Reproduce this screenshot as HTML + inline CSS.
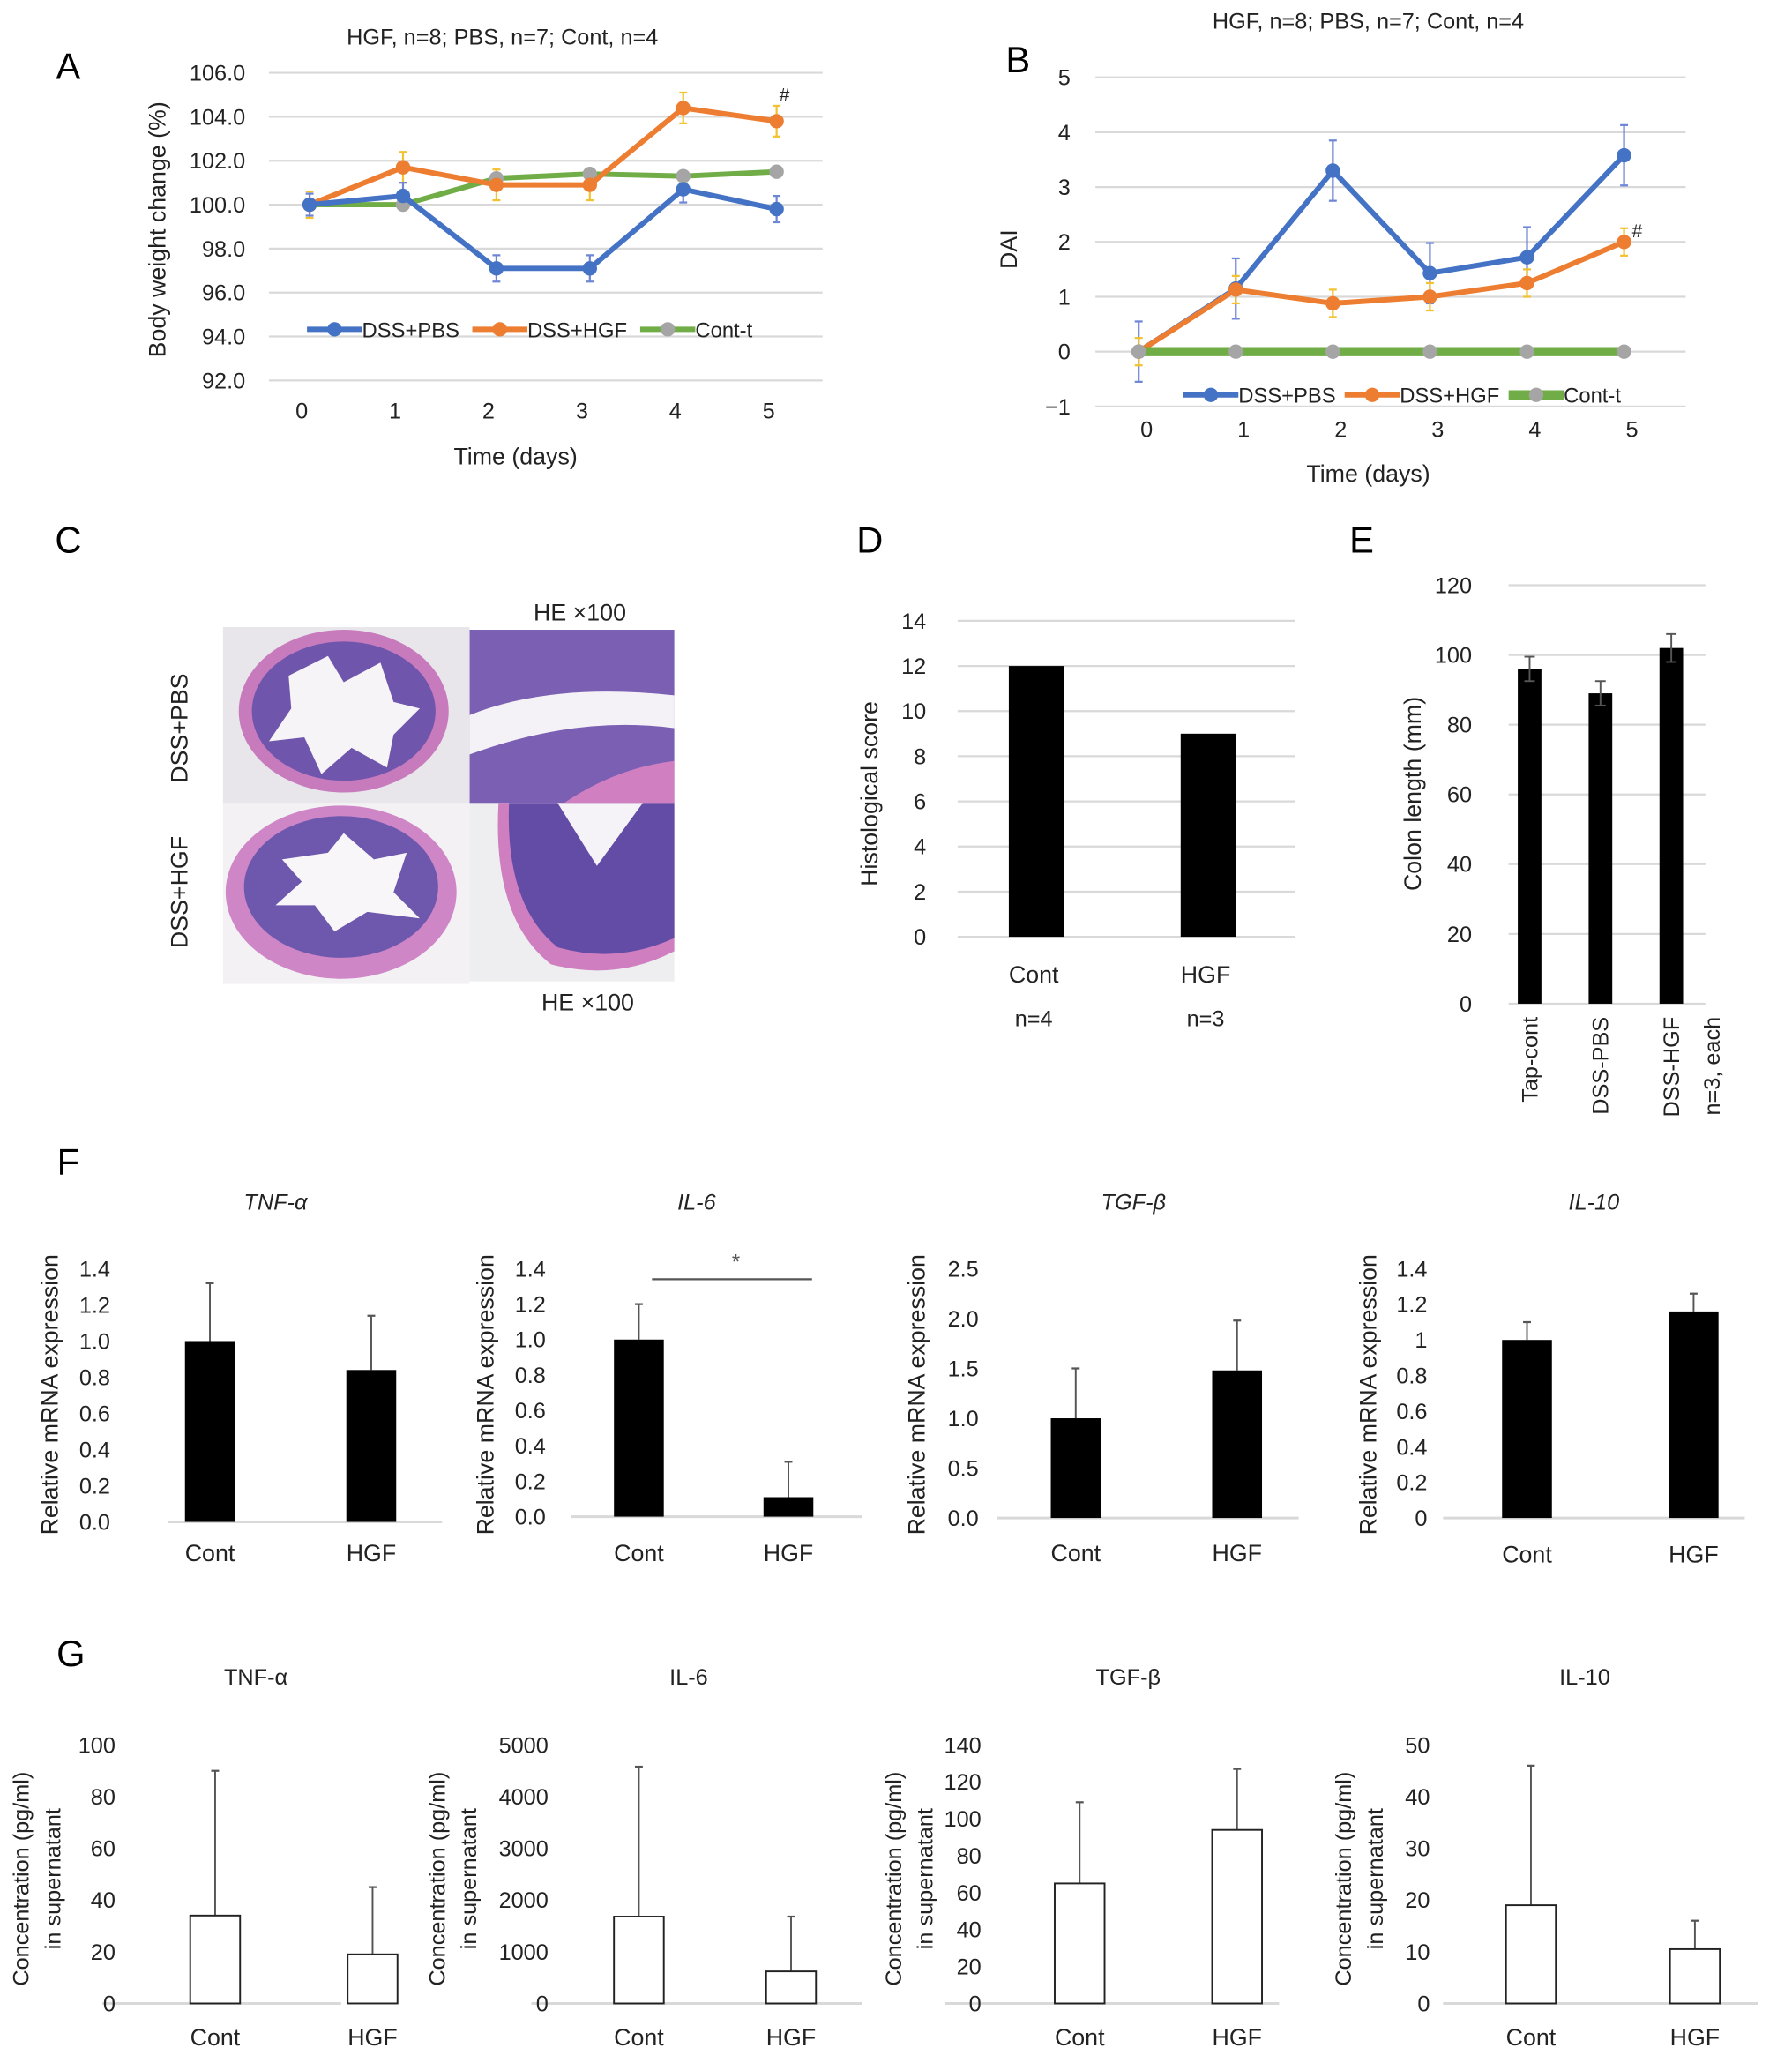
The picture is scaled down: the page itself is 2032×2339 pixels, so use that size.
<!DOCTYPE html>
<html><head><meta charset="utf-8"><style>
html,body{margin:0;padding:0;background:#fff;}
svg{display:block;font-family:"Liberation Sans",Arial,sans-serif;}
</style></head>
<body>
<svg id="fig" width="2032" height="2339" viewBox="0 0 1366 1572.4" xmlns="http://www.w3.org/2000/svg">
<rect x="0" y="0" width="1366" height="1572.4" fill="#fff"/>
<!-- Panel C histology (illustrative) -->
<g>
  <rect x="170" y="478" width="188" height="134" fill="#e8e6ea"/>
  <ellipse cx="262" cy="542" rx="80" ry="62" fill="#c77bbd"/>
  <ellipse cx="262" cy="542" rx="70" ry="53" fill="#6f55ac"/>
  <path d="M220 515 L250 500 L262 520 L290 505 L300 535 L320 540 L300 560 L295 585 L268 570 L245 590 L232 562 L205 565 L222 540 Z" fill="#f6f4f7"/>
  <rect x="358" y="480" width="156" height="132" fill="#7a5fb3"/>
  <path d="M358 545 Q420 520 514 530 L514 555 Q440 545 358 575 Z" fill="#f4f2f6"/>
  <path d="M430 612 Q470 585 514 580 L514 612 Z" fill="#d07fc0"/>
  <rect x="170" y="612" width="188" height="138" fill="#f3f1f4"/>
  <ellipse cx="260" cy="680" rx="88" ry="66" fill="#cf86c6"/>
  <ellipse cx="260" cy="676" rx="74" ry="54" fill="#6e58ae"/>
  <path d="M215 655 L250 650 L262 635 L285 655 L310 650 L300 680 L320 700 L280 695 L255 710 L240 690 L210 690 L230 672 Z" fill="#f8f6f9"/>
  <rect x="358" y="612" width="156" height="136" fill="#eeeef0"/>
  <path d="M380 612 L514 612 L514 725 Q470 748 420 735 Q375 700 380 612 Z" fill="#cf7fc0"/>
  <path d="M388 612 L514 612 L514 715 Q470 735 425 722 Q385 690 388 612 Z" fill="#634ca6"/>
  <path d="M425 612 L490 612 L455 660 Z" fill="#f5f3f7"/>
</g>
<script>
// ===== Panel A data =====
const daysA = [0, 1, 2, 3, 4, 5];
const pbsA = [100.0, 100.4, 97.1, 97.1, 100.7, 99.8];
const pbsErrA = [0.5, 0.6, 0.6, 0.6, 0.6, 0.6];
const hgfA = [100.0, 101.7, 100.9, 100.9, 104.4, 103.8];
const hgfErrA = [0.6, 0.7, 0.7, 0.7, 0.7, 0.7];
const contA = [100.0, 100.0, 101.2, 101.4, 101.3, 101.5];
const contErrA = [0.2, 0.2, 0.2, 0.2, 0.2, 0.2];
const ticksA = [106, 104, 102, 100, 98, 96, 94, 92];
const tickLabelsA = ["106.0","104.0","102.0","100.0","98.0","96.0","94.0","92.0"];
// ===== Panel B data =====
const daysB = [0, 1, 2, 3, 4, 5];
const pbsB = [0, 1.15, 3.3, 1.43, 1.72, 3.58];
const pbsErrB = [0.55, 0.55, 0.55, 0.55, 0.55, 0.55];
const hgfB = [0, 1.13, 0.88, 1.0, 1.25, 2.0];
const hgfErrB = [0.25, 0.25, 0.25, 0.25, 0.25, 0.25];
const contB = [0, 0, 0, 0, 0, 0];
const ticksB = [5, 4, 3, 2, 1, 0, -1];
const tickLabelsB = ["5","4","3","2","1","0","\u22121"];
// ===== Panel D data =====
const groupsD = ["Cont", "HGF"];
const nD = ["n=4", "n=3"];
const valuesD = [12, 9];
const ticksD = [0, 2, 4, 6, 8, 10, 12, 14];
// ===== Panel E data =====
const groupsE = ["Tap-cont", "DSS-PBS", "DSS-HGF"];
const valuesE = [96, 89, 102];
const errE = [3.5, 3.5, 4];
const ticksE = [0, 20, 40, 60, 80, 100, 120];
// ===== Panel F data =====
const groupsF = ["Cont", "HGF"];
const tnfF = [1.0, 0.84];
const tnfErrF = [0.32, 0.30];
const il6F = [1.0, 0.11];
const il6ErrF = [0.2, 0.2];
const tgfF = [1.0, 1.48];
const tgfErrF = [0.5, 0.5];
const il10F = [1.0, 1.16];
const il10ErrF = [0.1, 0.1];
const ticksF14 = [0, 0.2, 0.4, 0.6, 0.8, 1.0, 1.2, 1.4];
const labelsF14 = ["0.0","0.2","0.4","0.6","0.8","1.0","1.2","1.4"];
const labelsF10 = ["0","0.2","0.4","0.6","0.8","1","1.2","1.4"];
const ticksF25 = [0, 0.5, 1.0, 1.5, 2.0, 2.5];
const labelsF25 = ["0.0","0.5","1.0","1.5","2.0","2.5"];
// ===== Panel G data =====
const groupsG = ["Cont", "HGF"];
const tnfG = [34, 19];
const tnfErrG = [56, 26];
const il6G = [1680, 620];
const il6ErrG = [2900, 1060];
const tgfG = [65, 94];
const tgfErrG = [44, 33];
const il10G = [19, 10.5];
const il10ErrG = [27, 5.5];
const ticksGtnf = [0, 20, 40, 60, 80, 100];
const ticksGil6 = [0, 1000, 2000, 3000, 4000, 5000];
const ticksGtgf = [0, 20, 40, 60, 80, 100, 120, 140];
const ticksGil10 = [0, 10, 20, 30, 40, 50];

const NS = 'http://www.w3.org/2000/svg';
const svg = document.getElementById('fig');
function el(tag, attrs) {
  const e = document.createElementNS(NS, tag);
  for (const k in attrs) e.setAttribute(k, attrs[k]);
  svg.appendChild(e);
  return e;
}
function named(e, name, inter) {
  
  
  return e;
}
function txt(x, y, s, size, anchor, extra) {
  const a = Object.assign({x: x, y: y, 'font-size': size, 'text-anchor': anchor || 'middle', fill: '#222'}, extra || {});
  const t = el('text', a);
  t.textContent = s;
  return t;
}
function vtxt(x, y, s, size, anchor) {
  const t = el('text', {x: 0, y: 0, 'font-size': size, 'text-anchor': anchor || 'middle', fill: '#222', transform: 'translate(' + x + ',' + y + ') rotate(-90)'});
  t.textContent = s;
  return t;
}
function ln(x1, y1, x2, y2, stroke, w) {
  return el('line', {x1: x1, y1: y1, x2: x2, y2: y2, stroke: stroke, 'stroke-width': w});
}

// panel letters
const letters = [["A",52,60],["B",776,55],["C",52,421],["D",663,421],["E",1038,421],["F",52,895],["G",54,1270]];
letters.forEach(l => { named(txt(l[1], l[2], l[0], 28, 'middle', {fill:'#000'}), 'panel-label-' + l[0].toLowerCase()); });

// ===== Line chart helper =====
function lineChart(o) {
  o.ticks.forEach((t, i) => {
    named(ln(o.gx0, o.y(t), o.gx1, o.y(t), '#d9d9d9', 1.5), 'gridline');
    named(txt(o.tickX, o.y(t) + 6, o.tickLabels[i], 17, 'end'), 'y-tick-label');
  });
  o.days.forEach((d, i) => {
    named(txt(o.x(i) + o.lblDx, o.xlabY, String(d), 17), 'x-tick-label');
  });
  o.series.forEach(s => {
    if (s.err) s.vals.forEach((v, i) => {
      const e1 = named(ln(o.x(i), o.y(v - s.err[i]), o.x(i), o.y(v + s.err[i]), s.ec, 1.5), 'error-bar');
      named(ln(o.x(i) - 3, o.y(v + s.err[i]), o.x(i) + 3, o.y(v + s.err[i]), s.ec, 1.5), 'error-cap');
      named(ln(o.x(i) - 3, o.y(v - s.err[i]), o.x(i) + 3, o.y(v - s.err[i]), s.ec, 1.5), 'error-cap');
    });
  });
  o.series.forEach(s => {
    const pts = s.vals.map((v, i) => o.x(i) + ',' + o.y(v)).join(' ');
    named(el('polyline', {points: pts, fill: 'none', stroke: s.c, 'stroke-width': s.w, 'stroke-linejoin': 'round'}), s.name + '-line');
    s.vals.forEach((v, i) => {
      named(el('circle', {cx: o.x(i), cy: o.y(v), r: 5.5, fill: s.mc}), s.name + '-point');
    });
  });
  // legend
  o.legend.forEach(L => {
    named(ln(L[0], o.legY, L[0] + 42, o.legY, L[3], L[4]), 'legend-swatch');
    named(el('circle', {cx: L[0] + 21, cy: o.legY, r: 5.5, fill: L[5]}), 'legend-marker');
    named(txt(L[0] + 42, o.legY + 6, L[1], 16, 'start'), 'legend-entry-' + L[2]);
  });
}

const xA = i => 236 + i * 71.2;
const yA = v => 156 - (v - 100) * 16.75;
named(txt(383, 34, 'HGF, n=8; PBS, n=7; Cont, n=4', 17), 'chart-a-title');
lineChart({x: xA, y: yA, ticks: ticksA, tickLabels: tickLabelsA, days: daysA, gx0: 205, gx1: 627, tickX: 187, xlabY: 319, lblDx: -6, legY: 251,
  series: [
    {name: 'cont-t', vals: contA, err: contErrA, c: '#70ad47', mc: '#a5a5a5', ec: '#70ad47', w: 4},
    {name: 'dss-hgf', vals: hgfA, err: hgfErrA, c: '#ed7d31', mc: '#ed7d31', ec: '#f2c230', w: 4},
    {name: 'dss-pbs', vals: pbsA, err: pbsErrA, c: '#4472c4', mc: '#4472c4', ec: '#6f86d6', w: 4}
  ],
  legend: [[234, 'DSS+PBS', 'pbs', '#4472c4', 4, '#4472c4'], [360, 'DSS+HGF', 'hgf', '#ed7d31', 4, '#ed7d31'], [488, 'Cont-t', 'cont', '#70ad47', 4, '#a5a5a5']]
});
named(txt(598, 77, '#', 14), 'significance-mark-a');
named(vtxt(126, 175, 'Body weight change (%)', 18), 'y-axis-title-a');
named(txt(393, 354, 'Time (days)', 18), 'x-axis-title-a');

const xB = i => 868 + i * 74;
const yB = v => 268 - v * 41.8;
named(txt(1043, 22, 'HGF, n=8; PBS, n=7; Cont, n=4', 17), 'chart-b-title');
lineChart({x: xB, y: yB, ticks: ticksB, tickLabels: tickLabelsB, days: daysB, gx0: 835, gx1: 1285, tickX: 816, xlabY: 333, lblDx: 6, legY: 301,
  series: [
    {name: 'dss-pbs', vals: pbsB, err: pbsErrB, c: '#4472c4', mc: '#4472c4', ec: '#6f86d6', w: 4},
    {name: 'dss-hgf', vals: hgfB, err: hgfErrB, c: '#ed7d31', mc: '#ed7d31', ec: '#f2c230', w: 4},
    {name: 'cont-t', vals: contB, err: null, c: '#70ad47', mc: '#a5a5a5', ec: '#70ad47', w: 7}
  ],
  legend: [[902, 'DSS+PBS', 'pbs', '#4472c4', 4, '#4472c4'], [1025, 'DSS+HGF', 'hgf', '#ed7d31', 4, '#ed7d31'], [1150, 'Cont-t', 'cont', '#70ad47', 7, '#a5a5a5']]
});
named(txt(1248, 181, '#', 14), 'significance-mark-b');
named(vtxt(775, 190, 'DAI', 18), 'y-axis-title-b');
named(txt(1043, 367, 'Time (days)', 18), 'x-axis-title-b');

// Panel C labels
named(txt(442, 473, 'HE \u00d7100', 18), 'he-label-top');
named(txt(448, 770, 'HE \u00d7100', 18), 'he-label-bottom');
named(vtxt(143, 555, 'DSS+PBS', 18), 'row-label-pbs');
named(vtxt(143, 680, 'DSS+HGF', 18), 'row-label-hgf');

// ===== Panel D =====
const yD = v => 714 - v * 17.2;
const xD = i => 790 + i * 131;
ticksD.forEach(t => {
  named(ln(730, yD(t), 987, yD(t), '#d9d9d9', 1.5), 'gridline');
  named(txt(706, yD(t) + 6, String(t), 17, 'end'), 'y-tick-label');
});
valuesD.forEach((v, i) => {
  named(el('rect', {x: xD(i) - 21, y: yD(v), width: 42, height: yD(0) - yD(v), fill: '#000'}), 'bar-' + groupsD[i].toLowerCase());
  named(txt(xD(i) - 2, 749, groupsD[i], 18), 'x-tick-label');
  named(txt(xD(i) - 2, 782, nD[i], 17), 'n-label');
});
named(vtxt(669, 605, 'Histological score', 18), 'y-axis-title-d');

// ===== Panel E =====
const yE = v => 765 - v * 2.658;
const xE = i => 1166 + i * 54;
ticksE.forEach(t => {
  named(ln(1150, yE(t), 1300, yE(t), '#d9d9d9', 1.5), 'gridline');
  named(txt(1122, yE(t) + 6, String(t), 17, 'end'), 'y-tick-label');
});
valuesE.forEach((v, i) => {
  named(el('rect', {x: xE(i) - 9, y: yE(v), width: 18, height: yE(0) - yE(v), fill: '#000'}), 'bar-' + groupsE[i].toLowerCase());
  named(ln(xE(i), yE(v - errE[i]), xE(i), yE(v + errE[i]), '#555', 1.3), 'error-bar');
  named(ln(xE(i) - 4, yE(v + errE[i]), xE(i) + 4, yE(v + errE[i]), '#555', 1.3), 'error-cap');
  named(ln(xE(i) - 4, yE(v - errE[i]), xE(i) + 4, yE(v - errE[i]), '#555', 1.3), 'error-cap');
  named(vtxt(xE(i) + 6, 775, groupsE[i], 17, 'end'), 'x-tick-label');
});
named(vtxt(1311, 775, 'n=3, each', 17, 'end'), 'n-label-e');
named(vtxt(1083, 605, 'Colon length (mm)', 18), 'y-axis-title-e');

// ===== Bar chart helper for F/G =====
function barChart(o) {
  const y = v => o.y0 - (v / o.max) * (o.y0 - o.yTop);
  named(ln(o.bx0, o.y0, o.bx1, o.y0, '#d9d9d9', 2), 'baseline');
  o.ticks.forEach((t, i) => {
    named(txt(o.tickX, y(t) + 6, o.labels ? o.labels[i] : String(t), 17, 'end'), 'y-tick-label');
  });
  o.vals.forEach((v, i) => {
    const cx = o.cx[i];
    named(ln(cx, y(v), cx, y(v + o.err[i]), '#555', 1.3), 'error-bar');
    named(ln(cx - 3, y(v + o.err[i]), cx + 3, y(v + o.err[i]), '#555', 1.5), 'error-cap');
    if (o.filled) {
      named(el('rect', {x: cx - 19, y: y(v), width: 38, height: o.y0 - y(v), fill: '#000'}), 'bar-' + o.groups[i].toLowerCase());
    } else {
      named(el('rect', {x: cx - 19, y: y(v), width: 38, height: o.y0 - y(v), fill: '#fff', stroke: '#222', 'stroke-width': 1.3}), 'bar-' + o.groups[i].toLowerCase());
    }
    named(txt(cx, o.xlabY, o.groups[i], 18), 'x-tick-label');
  });
  named(txt(o.titleX, o.titleY, o.title, 17, 'middle', o.filled ? {'font-style': 'italic'} : {}), 'chart-title');
}

// F
barChart({filled: true, groups: groupsF, vals: tnfF, err: tnfErrF, ticks: ticksF14, labels: labelsF14, max: 1.4, y0: 1160, yTop: 967, bx0: 128, bx1: 337, tickX: 84, cx: [160, 283], xlabY: 1190, title: 'TNF-\u03b1', titleX: 210, titleY: 922});
named(vtxt(44, 1063, 'Relative mRNA expression', 18), 'y-axis-title-f1');
barChart({filled: true, groups: groupsF, vals: il6F, err: il6ErrF, ticks: ticksF14, labels: labelsF14, max: 1.4, y0: 1156, yTop: 967, bx0: 435, bx1: 657, tickX: 416, cx: [487, 601], xlabY: 1190, title: 'IL-6', titleX: 531, titleY: 922});
named(vtxt(376, 1063, 'Relative mRNA expression', 18), 'y-axis-title-f2');
named(ln(497, 975, 619, 975, '#555', 1.5), 'significance-line');
named(txt(561, 967, '*', 16, 'middle', {fill: '#555'}), 'significance-star');
barChart({filled: true, groups: groupsF, vals: tgfF, err: tgfErrF, ticks: ticksF25, labels: labelsF25, max: 2.5, y0: 1157, yTop: 967, bx0: 760, bx1: 990, tickX: 746, cx: [820, 943], xlabY: 1190, title: 'TGF-\u03b2', titleX: 864, titleY: 922});
named(vtxt(705, 1063, 'Relative mRNA expression', 18), 'y-axis-title-f3');
barChart({filled: true, groups: groupsF, vals: il10F, err: il10ErrF, ticks: ticksF14, labels: labelsF10, max: 1.4, y0: 1157, yTop: 967, bx0: 1100, bx1: 1330, tickX: 1088, cx: [1164, 1291], xlabY: 1191, title: 'IL-10', titleX: 1215, titleY: 922});
named(vtxt(1049, 1063, 'Relative mRNA expression', 18), 'y-axis-title-f4');

// G
const gCfg = [
  [tnfG, tnfErrG, ticksGtnf, 100, 78, 260, 88, [164, 284], 'TNF-\u03b1', 195, 16],
  [il6G, il6ErrG, ticksGil6, 5000, 405, 657, 418, [487, 603], 'IL-6', 525, 333],
  [tgfG, tgfErrG, ticksGtgf, 140, 720, 975, 748, [823, 943], 'TGF-\u03b2', 860, 681],
  [il10G, il10ErrG, ticksGil10, 50, 1100, 1340, 1090, [1167, 1292], 'IL-10', 1208, 1024]
];
gCfg.forEach((c, k) => {
  barChart({filled: false, groups: groupsG, vals: c[0], err: c[1], ticks: c[2], max: c[3], y0: 1527, yTop: 1330, bx0: c[4], bx1: c[5], tickX: c[6], cx: c[7], xlabY: 1559, title: c[8], titleX: c[9], titleY: 1284});
  named(vtxt(c[10] + 6, 1432, 'Concentration (pg/ml)', 17), 'y-axis-title-g' + (k + 1));
  named(vtxt(c[10] + 30, 1432, 'in supernatant', 17), 'y-axis-subtitle-g' + (k + 1));
});
</script>
</svg>
</body></html>
